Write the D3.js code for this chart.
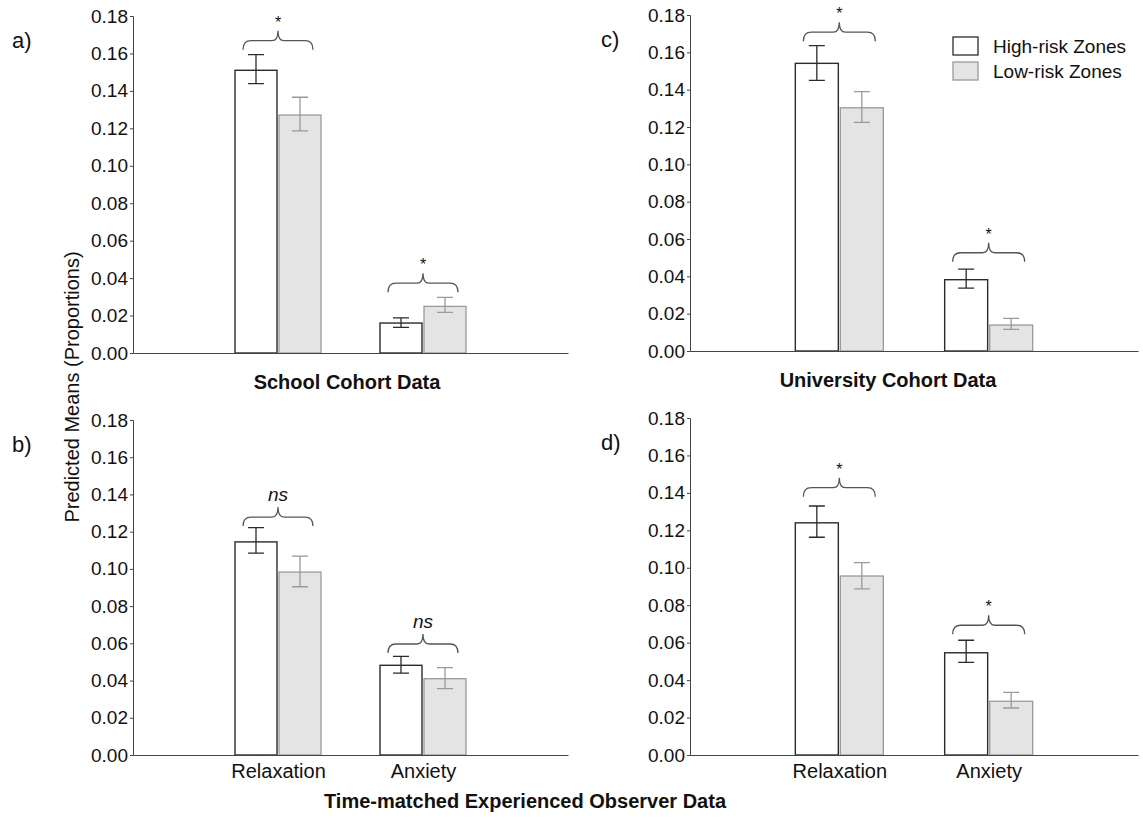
<!DOCTYPE html>
<html>
<head>
<meta charset="utf-8">
<script src="https://cdn.jsdelivr.net/npm/d3@7"></script>
<style>
  body { margin: 0; background: #fff; }
  svg { display: block; font-family: "Liberation Sans", Arial, sans-serif; }
</style>
</head>
<body>
<svg id="chart" width="1143" height="827"></svg>
<script>
// ---------- data ----------
const categories = ["Relaxation", "Anxiety"];
const seriesNames = ["High-risk Zones", "Low-risk Zones"];
const yTicks = [0, 0.02, 0.04, 0.06, 0.08, 0.10, 0.12, 0.14, 0.16, 0.18];
const panelLetters = ["a)", "b)", "c)", "d)"];
const panelTitles = ["School Cohort Data", "", "University Cohort Data", ""];

// [Relaxation, Anxiety] per panel a, b, c, d
const highMeans = [[0.151, 0.016], [0.1145, 0.0482], [0.1541, 0.0382], [0.1240, 0.0546]];
const highLower = [[0.1439, 0.0137], [0.1085, 0.0440], [0.1450, 0.0337], [0.1163, 0.0495]];
const highUpper = [[0.1594, 0.0188], [0.1222, 0.0530], [0.1636, 0.0439], [0.1330, 0.0613]];
const lowMeans  = [[0.1271, 0.0249], [0.0983, 0.0410], [0.1303, 0.0139], [0.0956, 0.0287]];
const lowLower  = [[0.1186, 0.0217], [0.0904, 0.0357], [0.1225, 0.0116], [0.0887, 0.0251]];
const lowUpper  = [[0.1366, 0.0297], [0.1069, 0.0470], [0.1389, 0.0175], [0.1027, 0.0335]];
const braceLevels = [[0.162, 0.0325], [0.123, 0.0548], [0.166, 0.0478], [0.138, 0.0645]];
const signifLabels = [["*", "*"], ["ns", "ns"], ["*", "*"], ["*", "*"]];

// ---------- layout ----------
const panels = [
  { x0: 133, x1: 568, yTop: 16, yBot: 353 },
  { x0: 133, x1: 568, yTop: 420, yBot: 755 },
  { x0: 690, x1: 1138, yTop: 15, yBot: 351 },
  { x0: 690, x1: 1138, yTop: 418, yBot: 755 }
];

const svg = d3.select("#chart");
const darkStroke = "#2b2b2b";
const grayStroke = "#9a9a9a";
const grayFill = "#e4e4e4";

panels.forEach((p, i) => {
  const g = svg.append("g");
  const x = d3.scalePoint().domain(categories).range([p.x0, p.x1]).padding(1);
  const y = d3.scaleLinear().domain([0, 0.18]).range([p.yBot, p.yTop]);
  const step = x.step();
  const bw = Math.round(step * 0.29);
  const gap = 2;

  // y axis
  const ya = g.append("g").attr("transform", `translate(${p.x0},0)`)
    .call(d3.axisLeft(y).tickValues(yTicks).tickFormat(d3.format(".2f")).tickSize(3).tickPadding(2));
  ya.selectAll("text").attr("font-size", 19).attr("fill", "#111").attr("font-family", "Liberation Sans, Arial");
  ya.selectAll("line, path").attr("stroke", "#444");

  // bars
  categories.forEach((c, j) => {
    const cx = x(c);
    const hx = cx - gap / 2 - bw;
    const lx = cx + gap / 2;
    // low-risk (gray)
    g.append("rect").attr("x", lx).attr("y", y(lowMeans[i][j]))
      .attr("width", bw).attr("height", y(0) - y(lowMeans[i][j]))
      .attr("fill", grayFill).attr("stroke", grayStroke).attr("stroke-width", 1.3);
    // high-risk (white)
    g.append("rect").attr("x", hx).attr("y", y(highMeans[i][j]))
      .attr("width", bw).attr("height", y(0) - y(highMeans[i][j]))
      .attr("fill", "#fff").attr("stroke", darkStroke).attr("stroke-width", 1.4);

    // error bars
    const errs = [
      { cx: hx + bw / 2, lo: highLower[i][j], hi: highUpper[i][j], col: darkStroke },
      { cx: lx + bw / 2, lo: lowLower[i][j], hi: lowUpper[i][j], col: grayStroke }
    ];
    errs.forEach(e => {
      const cap = 8;
      g.append("path")
        .attr("d", `M${e.cx},${y(e.hi)}V${y(e.lo)}M${e.cx - cap},${y(e.hi)}H${e.cx + cap}M${e.cx - cap},${y(e.lo)}H${e.cx + cap}`)
        .attr("stroke", e.col).attr("stroke-width", 1.3).attr("fill", "none");
    });

    // brace
    const bx0 = hx + 8, bx1 = lx + bw - 8, bm = (bx0 + bx1) / 2;
    const yb = y(braceLevels[i][j]);
    const h1 = 9, h2 = 19, r = 8;
    const d = `M${bx0},${yb} Q${bx0},${yb - h1} ${bx0 + r},${yb - h1} H${bm - 6} Q${bm},${yb - h1} ${bm},${yb - h2}` +
              ` Q${bm},${yb - h1} ${bm + 6},${yb - h1} H${bx1 - r} Q${bx1},${yb - h1} ${bx1},${yb}`;
    g.append("path").attr("d", d).attr("fill", "none").attr("stroke", "#555").attr("stroke-width", 1.3);
    const lab = signifLabels[i][j];
    g.append("text").attr("x", bm).attr("y", lab === "*" ? yb - h2 - 3 : yb - h2 - 6)
      .attr("text-anchor", "middle")
      .attr("font-size", lab === "*" ? 16 : 19)
      .attr("font-style", lab === "*" ? "normal" : "italic")
      .attr("fill", "#111").text(lab);
  });

  // x axis
  const xa = g.append("g").attr("transform", `translate(0,${p.yBot})`)
    .call(d3.axisBottom(x).tickSize(0).tickPadding(9));
  xa.selectAll("path").attr("stroke", "#444");
  if (i === 1 || i === 3) {
    xa.selectAll("text").attr("font-size", 20).attr("fill", "#111").attr("font-family", "Liberation Sans, Arial");
  } else {
    xa.selectAll("text").remove();
  }

  // panel letter
  svg.append("text").attr("x", p.x0 - 121 + (i >= 2 ? 32 : 0)).attr("y", p.yTop + 32)
    .attr("font-size", 22).attr("fill", "#111").text(panelLetters[i]);

  // panel title
  if (panelTitles[i]) {
    svg.append("text").attr("x", i === 0 ? 347 : 888).attr("y", p.yBot + 36)
      .attr("text-anchor", "middle").attr("font-size", 20).attr("font-weight", "bold")
      .attr("fill", "#111").text(panelTitles[i]);
  }
});

// y-axis title
svg.append("text")
  .attr("transform", "translate(79,387) rotate(-90)")
  .attr("text-anchor", "middle").attr("font-size", 20).attr("fill", "#111")
  .text("Predicted Means (Proportions)");

// bottom title
svg.append("text").attr("x", 525).attr("y", 808)
  .attr("text-anchor", "middle").attr("font-size", 20).attr("font-weight", "bold")
  .attr("fill", "#111").text("Time-matched Experienced Observer Data");

// legend
const legend = svg.append("g").attr("transform", "translate(953,37)");
seriesNames.forEach((s, k) => {
  legend.append("rect").attr("x", 0).attr("y", k * 25).attr("width", 25).attr("height", 18)
    .attr("fill", k === 0 ? "#fff" : grayFill)
    .attr("stroke", k === 0 ? darkStroke : grayStroke).attr("stroke-width", 1.3);
  legend.append("text").attr("x", 40).attr("y", k * 25 + 16)
    .attr("font-size", 19).attr("fill", "#111").text(s);
});
</script>
</body>
</html>
